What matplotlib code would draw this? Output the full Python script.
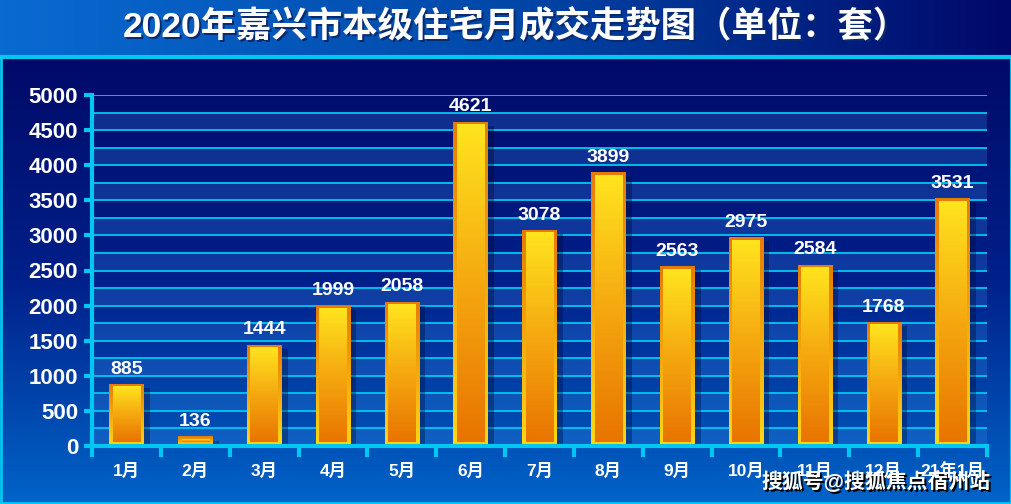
import matplotlib
matplotlib.use('Agg')
import matplotlib.pyplot as plt
import numpy as np
from matplotlib.colors import LinearSegmentedColormap

plt.rcParams['font.family'] = ['Liberation Sans', 'Noto Sans CJK SC', 'DejaVu Sans']

months = ['1月', '2月', '3月', '4月', '5月', '6月', '7月', '8月', '9月',
          '10月', '11月', '12月', '21年1月']
deals = [885, 136, 1444, 1999, 2058, 4621, 3078, 3899, 2563, 2975, 2584, 1768, 3531]
yticks = [0, 500, 1000, 1500, 2000, 2500, 3000, 3500, 4000, 4500, 5000]
title = '2020年嘉兴市本级住宅月成交走势图（单位：套）'
watermark = '搜狐号@搜狐焦点宿州站'

W, H = 1012, 504
fig = plt.figure(figsize=(W / 100, H / 100), dpi=100)

# background: title band + panel
bg = fig.add_axes([0, 0, 1, 1])
bg.set_xlim(0, W)
bg.set_ylim(H, 0)
bg.axis('off')
band = LinearSegmentedColormap.from_list('band', ['#0a6ad2', '#0048a8', '#00086a'])
bg.imshow(np.linspace(0, 1, 256)[None, :], cmap=band, aspect='auto',
          extent=[0, W, 57, 0])
panel = LinearSegmentedColormap.from_list('panel', ['#000a68', '#00208a', '#0064c8'])
bg.imshow(np.linspace(0, 1, 256)[:, None], cmap=panel, aspect='auto',
          extent=[0, W, H, 57])
cyan = '#00c8f0'
bg.plot([0, W], [57, 57], color=cyan, lw=3)
bg.plot([1, 1], [57, H], color=cyan, lw=2)
bg.plot([W - 1, W - 1], [57, H], color=cyan, lw=2)
bg.plot([0, W], [502.5, 502.5], color=cyan, lw=2)
tx = W / 2 + 10
bg.text(tx + 2, 27 + 2, title, color='#0a2a70', fontsize=25.5, fontweight='bold',
        ha='center', va='center')
bg.text(tx, 27, title, color='white', fontsize=25.5, fontweight='bold',
        ha='center', va='center')

# main chart
ax = fig.add_axes([92 / W, 58 / H, 895 / W, 351 / H])
ax.patch.set_alpha(0)
x = np.arange(len(months))
ax.set_xlim(-0.5, len(months) - 0.5)
ax.set_ylim(0, 5000)

# alternating bands and grid lines
for lo in range(0, 5000, 500):
    ax.axhspan(lo, lo + 250, color='#3c8ce6', alpha=0.25, lw=0, zorder=0)
for g in range(250, 5001, 250):
    ax.axhline(g, color=cyan, lw=1.3, zorder=1)

bw = 0.5
dx = 3.5 / 68.8
dy = 3.5 * 5000 / 351

# shadows
ax.bar(x + 0.09, np.maximum(np.array(deals) - 60, 0), width=bw, color='#000830',
       alpha=0.35, lw=0, zorder=2)

outer = LinearSegmentedColormap.from_list('outer', ['#ffd814', '#e87a06'])
inner = LinearSegmentedColormap.from_list('inner', ['#e87400', '#f5a810', '#ffe41e'])
grad = np.linspace(0, 1, 256)[:, None]
bars = ax.bar(x, deals, width=bw, color='none', lw=0, zorder=3)
for b, v in zip(bars, deals):
    x0, x1 = b.get_x(), b.get_x() + b.get_width()
    im = ax.imshow(grad, cmap=outer, origin='lower', aspect='auto',
                   extent=[x0, x1, 0, v], zorder=3)
    im.set_clip_path(b)
    ih = max(v - 2 * dy, 0)
    if ih > 0:
        ax.imshow(grad, cmap=inner, origin='lower', aspect='auto',
                  extent=[x0 + dx, x1 - dx, dy, dy + ih], zorder=4)
    ax.text(b.get_x() + b.get_width() / 2, v + 90, str(v), color='white',
            fontsize=14, fontweight='bold', ha='center', va='bottom', zorder=5)
ax.set_xlim(-0.5, len(months) - 0.5)
ax.set_ylim(0, 5000)

for s in ['top', 'right']:
    ax.spines[s].set_visible(False)
for s in ['left', 'bottom']:
    ax.spines[s].set_color(cyan)
    ax.spines[s].set_linewidth(3)
    ax.spines[s].set_zorder(6)

ax.set_yticks(yticks)
ax.set_yticklabels([str(t) for t in yticks])
ax.tick_params(axis='y', colors=cyan, length=6, width=3, labelcolor='white',
               labelsize=16, pad=4)
for lab in ax.get_yticklabels():
    lab.set_fontweight('bold')

ax.set_xticks(np.arange(len(months) + 1) - 0.5)
ax.set_xticklabels([])
ax.set_xticks(x, minor=True)
ax.set_xticklabels(months, minor=True)
ax.tick_params(axis='x', which='major', colors=cyan, length=8, width=3)
ax.tick_params(axis='x', which='minor', length=0, labelcolor='white',
               labelsize=12.5, pad=12)
for lab in ax.get_xticklabels(minor=True):
    lab.set_fontweight('bold')

# watermark
bg.text(878, 483, watermark, color='black', fontsize=15, fontweight='bold',
        ha='center', va='center')
bg.text(876, 481, watermark, color='white', fontsize=15, fontweight='bold',
        ha='center', va='center')

fig.savefig('out.png', dpi=100)
